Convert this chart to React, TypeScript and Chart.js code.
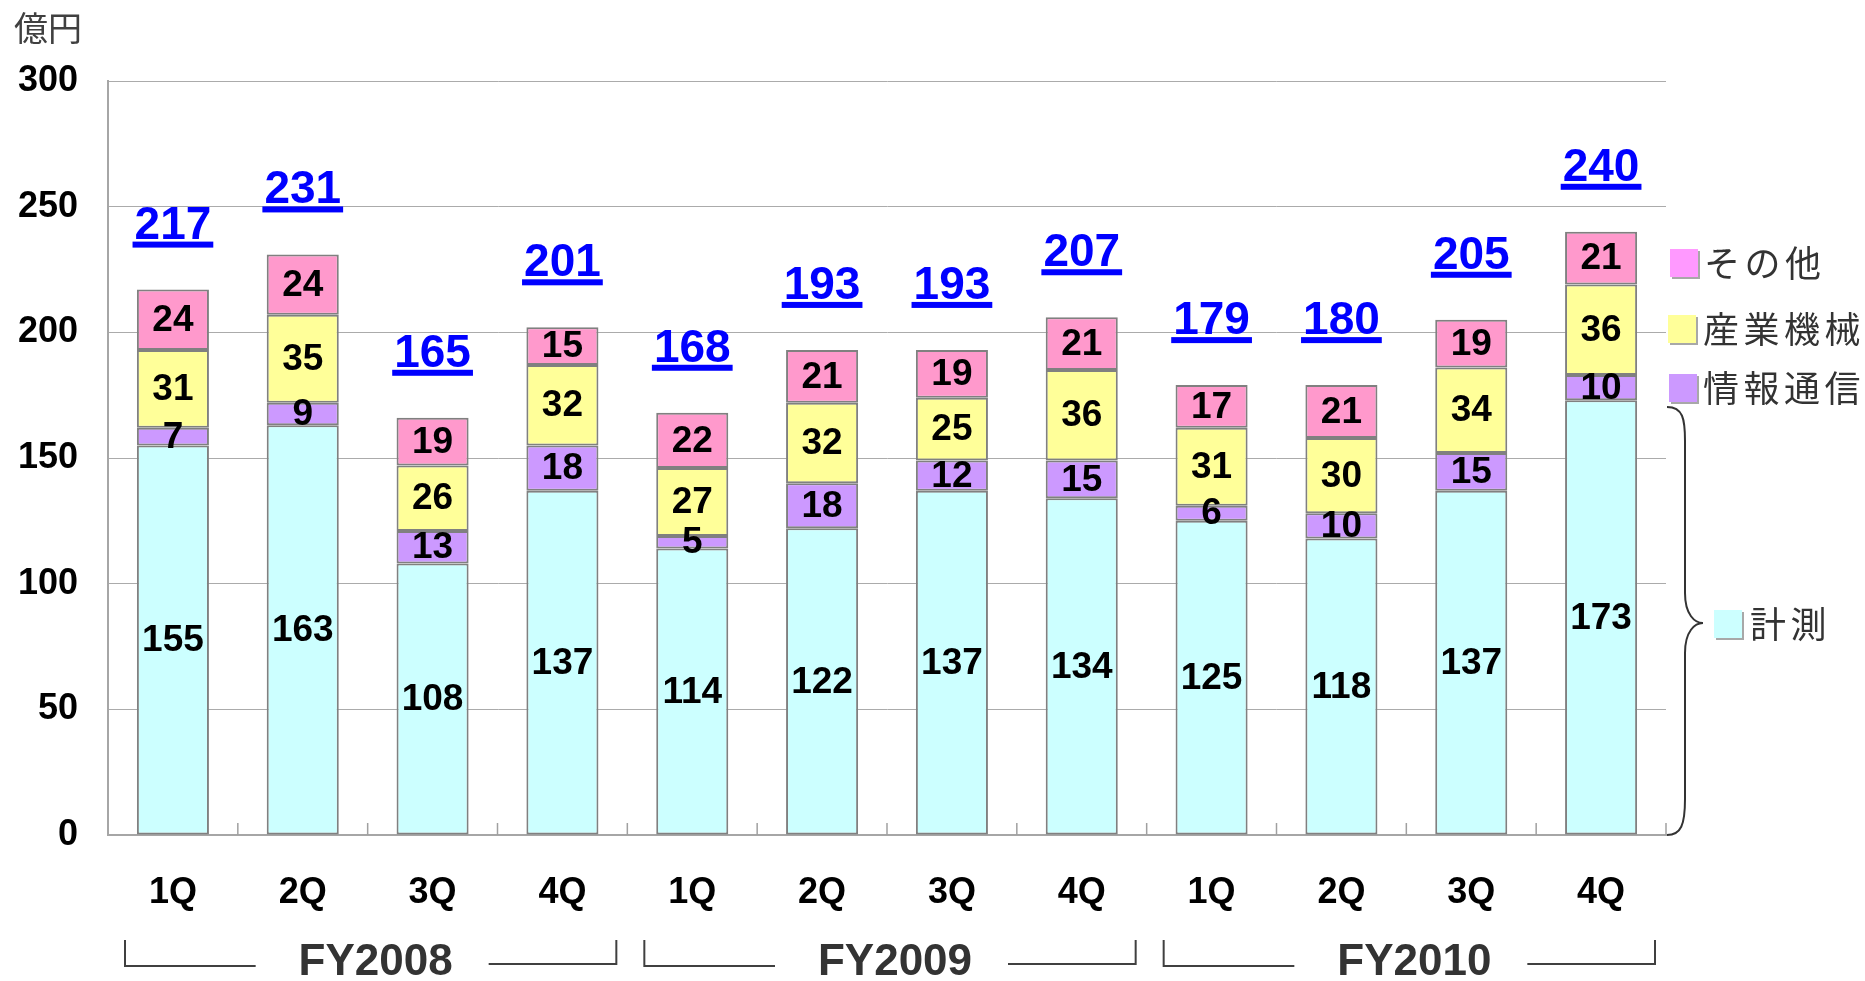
import React, { useEffect, useRef } from "react";
import { Chart, registerables } from "chart.js";

Chart.register(...registerables);

const categories = ["1Q", "2Q", "3Q", "4Q", "1Q", "2Q", "3Q", "4Q", "1Q", "2Q", "3Q", "4Q"];
const fiscalYears = ["FY2008", "FY2009", "FY2010"];
const seriesNames = ["計測", "情報通信", "産業機械", "その他"];
const keisoku = [155, 163, 108, 137, 114, 122, 137, 134, 125, 118, 137, 173];
const johoTsushin = [7, 9, 13, 18, 5, 18, 12, 15, 6, 10, 15, 10];
const sangyoKikai = [31, 35, 26, 32, 27, 32, 25, 36, 31, 30, 34, 36];
const sonota = [24, 24, 19, 15, 22, 21, 19, 21, 17, 21, 19, 21];
const totals = [217, 231, 165, 201, 168, 193, 193, 207, 179, 180, 205, 240];
const yMin = 0;
const yMax = 300;
const yStep = 50;
const unitLabel = "億円";

const barColors = ["#CCFFFF", "#CC99FF", "#FFFF99", "#FF99CC"];
const legendColors = ["#CCFFFF", "#CC99FF", "#FFFF99", "#FF99FF"];

const NUM_FONT = "'Liberation Sans', Arial, sans-serif";
const JP_FONT = "'Noto Sans CJK JP', sans-serif";

const decoPlugin = {
  id: "deco",
  afterDatasetsDraw(chart: any) {
    const ctx = chart.ctx;
    const yScale = chart.scales.y;
    ctx.save();
    // segment labels
    ctx.font = `bold 37px ${NUM_FONT}`;
    ctx.fillStyle = "#000";
    ctx.textAlign = "center";
    ctx.textBaseline = "middle";
    chart.data.datasets.forEach((ds: any, di: number) => {
      const meta = chart.getDatasetMeta(di);
      meta.data.forEach((bar: any, i: number) => {
        const p = bar.getProps(["x", "y", "base"], true);
        ctx.fillText(String(ds.data[i]), p.x, (p.y + p.base) / 2 + 1);
      });
    });
    // totals
    const meta0 = chart.getDatasetMeta(0);
    ctx.font = `bold 46px ${NUM_FONT}`;
    ctx.fillStyle = "#0000FF";
    ctx.textBaseline = "alphabetic";
    totals.forEach((t, i) => {
      let sum = 0;
      chart.data.datasets.forEach((ds: any) => (sum += ds.data[i]));
      const top = yScale.getPixelForValue(sum);
      const x = meta0.data[i].x;
      const baseline = top - 51;
      const txt = String(t);
      ctx.fillText(txt, x, baseline);
      const w = ctx.measureText(txt).width;
      ctx.fillRect(x - w / 2 - 2, baseline + 3, w + 4, 6);
    });
    ctx.restore();
  },
  afterDraw(chart: any) {
    const ctx = chart.ctx;
    const xScale = chart.scales.x;
    const area = chart.chartArea;
    ctx.save();
    // x tick marks (inside) at category boundaries
    const n = categories.length;
    const step = (area.right - area.left) / n;
    ctx.strokeStyle = "#A0A0A0";
    ctx.lineWidth = 1.5;
    for (let i = 1; i <= n; i++) {
      const bx = i < n
        ? (xScale.getPixelForValue(i - 1) + xScale.getPixelForValue(i)) / 2
        : xScale.getPixelForValue(n - 1) + step / 2;
      ctx.beginPath();
      ctx.moveTo(bx, area.bottom);
      ctx.lineTo(bx, area.bottom - 12);
      ctx.stroke();
    }
    // unit label
    ctx.fillStyle = "#404040";
    ctx.font = `34px ${JP_FONT}`;
    ctx.textAlign = "left";
    ctx.textBaseline = "middle";
    ctx.fillText(unitLabel, 14, 28);

    // fiscal year labels and brackets
    const groupSize = 4;
    fiscalYears.forEach((fy, g) => {
      const first = g * groupSize;
      const last = first + groupSize - 1;
      const left = xScale.getPixelForValue(first) - step / 2;
      const right = xScale.getPixelForValue(last) + step / 2;
      const cx = (left + right) / 2 + 8;
      ctx.fillStyle = "#333333";
      ctx.font = `bold 44px ${NUM_FONT}`;
      ctx.textAlign = "center";
      ctx.textBaseline = "middle";
      ctx.fillText(fy, cx, 963);
      ctx.strokeStyle = "#404040";
      ctx.lineWidth = 2;
      ctx.beginPath();
      ctx.moveTo(left + 17, 940);
      ctx.lineTo(left + 17, 966);
      ctx.lineTo(cx - 120, 966);
      ctx.moveTo(cx + 113, 964);
      ctx.lineTo(right - 11, 964);
      ctx.lineTo(right - 11, 940);
      ctx.stroke();
    });

    // brace
    const bx0 = area.right + 1;
    const bxv = bx0 + 18;
    const tipX = bx0 + 36;
    const tipY = 623;
    const topY = 407;
    const botY = area.bottom;
    ctx.strokeStyle = "#333333";
    ctx.lineWidth = 2;
    ctx.beginPath();
    ctx.moveTo(bx0, topY);
    ctx.bezierCurveTo(bxv - 2, topY, bxv, topY + 12, bxv, topY + 34);
    ctx.lineTo(bxv, tipY - 30);
    ctx.bezierCurveTo(bxv, tipY - 8, tipX - 8, tipY, tipX, tipY);
    ctx.bezierCurveTo(tipX - 8, tipY, bxv, tipY + 8, bxv, tipY + 30);
    ctx.lineTo(bxv, botY - 36);
    ctx.bezierCurveTo(bxv, botY - 10, bxv - 4, botY, bx0, botY);
    ctx.stroke();

    // legend
    const legendItems = [
      { idx: 3, sx: 1670, cy: 263, gap: 6 },
      { idx: 2, sx: 1668, cy: 329, gap: 7 },
      { idx: 1, sx: 1669, cy: 388, gap: 6 },
      { idx: 0, sx: 1714, cy: 624, gap: 8 },
    ];
    legendItems.forEach((it) => {
      const s = 28;
      ctx.fillStyle = "#A8A8A8";
      ctx.fillRect(it.sx + 2, it.cy - s / 2 + 2, s, s);
      ctx.fillStyle = legendColors[it.idx];
      ctx.fillRect(it.sx, it.cy - s / 2, s, s);
      ctx.fillStyle = "#333333";
      ctx.font = `36px ${JP_FONT}`;
      ctx.textAlign = "left";
      ctx.textBaseline = "middle";
      const name = seriesNames[it.idx];
      let tx = it.sx + s + it.gap;
      for (const ch of name) {
        ctx.fillText(ch, tx, it.cy);
        tx += 40.5;
      }
    });
    ctx.restore();
  },
};

export default function App() {
  const ref = useRef<HTMLCanvasElement | null>(null);
  useEffect(() => {
    document.body.style.margin = "0";
    const canvas = ref.current;
    if (!canvas) return;
    const seriesData = [keisoku, johoTsushin, sangyoKikai, sonota];
    const chart = new Chart(canvas, {
      type: "bar",
      data: {
        labels: categories,
        datasets: seriesNames.map((name, i) => ({
          label: name,
          data: seriesData[i],
          backgroundColor: barColors[i],
          borderColor: "#808080",
          borderWidth: 2,
          borderSkipped: false,
          barPercentage: 0.555,
          categoryPercentage: 1,
        })),
      },
      options: {
        responsive: false,
        animation: false,
        devicePixelRatio: 1,
        layout: { padding: { top: 81, right: 199, left: 0, bottom: 0 } },
        plugins: { legend: { display: false }, tooltip: { enabled: false }, title: { display: false } },
        scales: {
          x: {
            stacked: true,
            grid: { display: false },
            border: { display: true, color: "#A6A6A6", width: 2 },
            ticks: {
              font: { family: NUM_FONT, size: 36, weight: "bold" },
              color: "#000",
              padding: 28,
              maxRotation: 0,
              autoSkip: false,
            },
            afterFit: (s: any) => {
              s.height = 146;
            },
          },
          y: {
            stacked: true,
            min: yMin,
            max: yMax,
            grid: { color: "#ABABAB", lineWidth: 1, drawTicks: false },
            border: { display: true, color: "#A6A6A6", width: 2 },
            ticks: {
              stepSize: yStep,
              font: { family: NUM_FONT, size: 36, weight: "bold" },
              color: "#000",
              padding: 30,
            },
            afterFit: (s: any) => {
              s.width = 108;
            },
          },
        },
      },
      plugins: [decoPlugin],
    } as any);
    return () => chart.destroy();
  }, []);
  return (
    <div style={{ width: 1865, height: 981, background: "#fff" }}>
      <canvas ref={ref} width={1865} height={981} style={{ display: "block" }} />
    </div>
  );
}
